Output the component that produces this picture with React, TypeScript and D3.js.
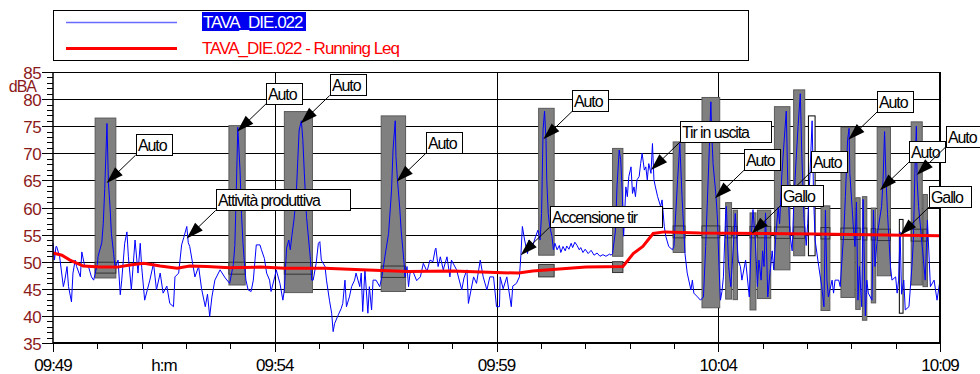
import React from 'react';
import * as d3 from 'd3';

// time is seconds after 09:49:00, levels in dBA
const xTickLabels = ['09:49', '09:54', '09:59', '10:04', '10:09'];
const xTickSeconds = [0, 300, 600, 900, 1200];
const yTickValues = [35, 40, 45, 50, 55, 60, 65, 70, 75, 80, 85];

const seriesName = 'TAVA_DIE.022';
const leqName = 'TAVA_DIE.022 - Running Leq';

const levels: [number, number][] = [
  [0, 53.4], [2, 50.3], [4, 52.8], [5, 52.8], [9, 50.9], [14, 45.4], [16, 46.6], [19, 49.1], [21, 45.4], [25, 42.6],
  [27, 47.9], [30, 50.3], [32, 49.1], [37, 47.2], [39, 51.8], [43, 49.1], [48, 49.1], [52, 47.2], [55, 46.6], [57, 47.8],
  [60, 49.5], [61, 51.0], [66, 53.5], [68, 57], [70, 63.5], [73, 75.5], [75, 64.5], [77, 60.5], [79, 55.2], [82, 51.5],
  [84, 48.8], [88, 50.3], [91, 43.9], [93, 46.6], [97, 53.4], [100, 55.5], [102, 50.9], [106, 44.8], [111, 54.0], [115, 47.9],
  [118, 53.4], [120, 49.0], [124, 42.9], [131, 46.6], [136, 49.7], [140, 44.8], [145, 47.9], [149, 44.2], [154, 45.5], [158, 42.3],
  [163, 41.7], [165, 47.2], [170, 47.9], [174, 53.1], [177, 54.5], [181, 56.5], [183, 53.5], [185, 52.8], [192, 47.2], [197, 49.1],
  [201, 45.0], [206, 41.7], [209, 44.0], [212, 39.9], [215, 43.5], [219, 46.6], [226, 48.5], [233, 47.0], [239, 46.0], [244, 49.5],
  [246, 53.0], [248, 63.2], [250, 74.8], [252, 69.5], [253, 66.9], [255, 58.9], [257, 53.5], [259, 49.7], [261, 46.6], [264, 44.8],
  [268, 44.5], [271, 46.6], [275, 53.1], [280, 53.1], [282, 52.2], [286, 50.6], [289, 47.9], [293, 46.6], [295, 44.5], [300, 47.2],
  [302, 48.5], [307, 46.0], [311, 42.9], [313, 44.8], [316, 52.5], [319, 54.0], [321, 52.2], [323, 54.6], [326, 57.7], [329, 62.1],
  [331, 68.2], [333, 74.3], [336, 76.0], [338, 72.5], [340, 66.4], [343, 58.2], [345, 55.3], [348, 50.9], [350, 46.6], [352, 46.6],
  [356, 49.7], [359, 53.4], [361, 53.7], [363, 50.3], [368, 49.1], [370, 46.6], [374, 42.9], [377, 40.5], [379, 37.1], [381, 38.6],
  [386, 40.2], [390, 41.4], [392, 42.3], [395, 46.6], [397, 41.7], [401, 43.5], [404, 45.4], [408, 46.6], [410, 47.9], [415, 45.4],
  [417, 47.9], [419, 40.8], [422, 48.5], [426, 40.5], [428, 45.4], [431, 41.1], [433, 46.6], [437, 46.6], [442, 45.4], [445, 47.2],
  [449, 50.9], [454, 55.2], [458, 63.2], [460, 70.6], [463, 76.0], [464, 69.4], [466, 65.1], [469, 60.1], [471, 55.8], [475, 49.7],
  [476, 47.2], [479, 49.1], [481, 45.4], [483, 47.9], [487, 48.2], [492, 46.5], [497, 47.2], [501, 49.7], [506, 48.2], [510, 50.3],
  [514, 50.0], [517, 52.2], [518, 52.5], [521, 49.1], [524, 50.9], [528, 48.5], [533, 50.9], [537, 47.2], [539, 50.3], [546, 48.5],
  [553, 44.8], [556, 47.0], [560, 48.5], [562, 42.3], [569, 47.2], [573, 46.0], [578, 50.3], [582, 47.2], [587, 44.8], [591, 47.2],
  [596, 47.2], [600, 41.7], [604, 41.7], [605, 47.2], [609, 45.0], [614, 47.2], [618, 43.5], [620, 41.7], [622, 45.5], [627, 46.0],
  [631, 47.2], [633, 51.2], [635, 56.5], [638, 54.0], [642, 51.5], [644, 54.0], [648, 52.5], [653, 54.7], [656, 55.8], [659, 54.0],
  [661, 58.9], [663, 74.3], [665, 77.8], [667, 72.4], [668, 65.1], [670, 58.9], [672, 56.5], [675, 54.7], [677, 52.2], [679, 53.4],
  [682, 52.2], [685, 53.0], [687, 51.7], [690, 52.8], [693, 52.0], [695, 52.9], [698, 52.3], [701, 53.4], [703, 52.6], [706, 53.6],
  [709, 53.0], [712, 52.2], [714, 52.6], [717, 51.7], [720, 52.3], [724, 51.5], [728, 52.1], [732, 51.2], [736, 51.6], [740, 51.0],
  [744, 51.3], [748, 51.0], [753, 51.4], [755, 51.2], [757, 51.5], [761, 55.8], [763, 63.8], [766, 70.6], [768, 68.8], [770, 63.2],
  [772, 54.7], [775, 63.8], [777, 62.0], [779, 65.7], [782, 67.5], [784, 62.6], [786, 63.8], [788, 62.0], [790, 65.1], [793, 65.7],
  [795, 68.1], [797, 70.0], [800, 66.9], [802, 67.5], [804, 65.1], [806, 68.1], [809, 66.3], [811, 71.8], [813, 65.1], [815, 63.8],
  [818, 62.0], [822, 60.2], [824, 61.4], [827, 56.5], [829, 54.7], [833, 52.8], [838, 52.2], [840, 52.8], [845, 65.1], [848, 71.8],
  [851, 62.0], [855, 51.5], [858, 47.9], [863, 44.8], [865, 46.6], [867, 44.2], [872, 43.5], [876, 42.9], [880, 43.5], [883, 52.8],
  [885, 60.2], [888, 71.2], [890, 79.5], [891, 74.3], [893, 68.1], [897, 62.0], [899, 57.7], [901, 49.1], [903, 42.9], [905, 44.5],
  [907, 47.2], [910, 58.9], [911, 60.2], [914, 49.1], [917, 45.4], [921, 54.0], [923, 58.9], [927, 50.3], [930, 49.1], [932, 46.6],
  [937, 50.3], [942, 43.5], [945, 55.4], [947, 59.6], [950, 54.0], [953, 45.4], [955, 50.3], [958, 46.6], [960, 52.0], [962, 49.1],
  [964, 59.0], [967, 43.5], [970, 48.0], [973, 52.0], [975, 48.5], [978, 55.0], [981, 60.0], [983, 57.0], [986, 66.0], [989, 72.0],
  [992, 77.8], [994, 65.0], [997, 55.0], [1000, 52.0], [1002, 60.0], [1005, 68.0], [1008, 75.0], [1011, 81.0], [1013, 70.0], [1016, 58.0],
  [1019, 53.0], [1021, 57.0], [1024, 66.0], [1027, 76.0], [1029, 62.0], [1031, 54.0], [1036, 49.1], [1040, 45.4], [1043, 41.7], [1045, 59.5],
  [1047, 46.6], [1049, 43.5], [1054, 46.6], [1056, 44.2], [1058, 46.6], [1063, 46.6], [1065, 45.4], [1070, 55.8], [1072, 62.0], [1075, 72.5],
  [1077, 74.6], [1078, 66.3], [1081, 60.2], [1083, 55.8], [1085, 52.8], [1087, 61.0], [1089, 42.9], [1091, 49.1], [1094, 41.7], [1096, 61.5],
  [1099, 40.0], [1101, 46.6], [1103, 44.2], [1108, 42.9], [1110, 59.5], [1112, 49.1], [1116, 55.8], [1121, 60.2], [1123, 65.1], [1125, 74.0],
  [1127, 65.1], [1129, 58.9], [1133, 49.1], [1135, 46.6], [1140, 47.2], [1142, 44.2], [1144, 46.6], [1146, 55.5], [1148, 44.0], [1151, 46.6],
  [1153, 41.1], [1158, 41.7], [1162, 49.1], [1164, 54.0], [1166, 66.3], [1168, 75.0], [1169, 65.1], [1171, 60.2], [1176, 52.8], [1180, 46.6],
  [1183, 57.7], [1187, 45.4], [1192, 46.6], [1196, 42.9], [1200, 46.6],
];

const runningLeq: [number, number][] = [
  [0, 51.6], [12, 51.2], [23, 50.3], [41, 49.2], [64, 49.0], [87, 49.0], [104, 49.4], [123, 49.7], [145, 49.2], [168, 48.8],
  [185, 49.2], [208, 49.1], [239, 48.9], [281, 49.0], [314, 48.8], [368, 48.8], [417, 48.5], [480, 48.2], [541, 48.3], [599, 48.0],
  [630, 47.9], [649, 48.3], [721, 49.0], [771, 49.1], [785, 51.5], [798, 52.8], [812, 55.2], [827, 55.5], [875, 55.3], [962, 55.2],
  [1031, 55.1], [1200, 54.8],
];

// marked events: start, end, min, max, band low, band high, white (1) or grey (0)
const events: [number, number, number, number, number, number, number][] = [
  [57, 85, 47.0, 76.5, 47.9, 49.9, 0],
  [238, 260, 45.7, 75.1, 47.7, 49.9, 0],
  [313, 351, 44.3, 77.7, 47.7, 49.85, 0],
  [444, 477, 44.5, 76.9, 47.1, 49.2, 0],
  [657, 678, 51.2, 78.3, 47.2, 49.5, 0],
  [757, 771, 51.0, 70.9, 48.0, 50.0, 0],
  [839, 855, 51.7, 72.1, 54.4, 56.6, 0],
  [878, 902, 41.5, 80.3, 54.4, 56.6, 0],
  [910, 918, 43.1, 60.9, 54.4, 56.5, 0],
  [920, 926, 43.0, 59.5, 54.4, 56.5, 0],
  [943, 951, 41.1, 59.0, 54.4, 56.5, 0],
  [953, 971, 43.2, 59.5, 54.4, 56.5, 0],
  [976, 997, 48.5, 78.6, 54.3, 56.4, 0],
  [1002, 1017, 51.1, 81.7, 54.3, 56.4, 0],
  [1022, 1031, 51.1, 76.9, 54.3, 56.4, 1],
  [1039, 1051, 41.0, 60.3, 54.2, 56.3, 0],
  [1066, 1085, 43.4, 74.8, 54.1, 56.2, 0],
  [1086, 1092, 41.2, 61.8, 54.1, 56.2, 0],
  [1095, 1101, 39.2, 62.0, 54.0, 56.2, 0],
  [1107, 1113, 42.4, 59.9, 54.0, 56.1, 0],
  [1115, 1133, 47.4, 74.8, 53.9, 56.0, 0],
  [1145, 1150, 40.5, 57.8, 53.9, 56.0, 1],
  [1161, 1176, 45.7, 75.8, 53.8, 56.0, 0],
  [1177, 1183, 45.4, 62.4, 53.8, 56.0, 0],
];

// notes: text, time and level the arrow points at
const notes: [string, number, number][] = [
  ['Auto', 72.6, 64.5],
  ['Auto', 249.3, 74.0],
  ['Auto', 335.1, 75.5],
  ['Attività produttiva', 180.9, 54.3],
  ['Auto', 465, 64.8],
  ['Auto', 663.3, 72.6],
  ['Accensione tir', 632.7, 51.2],
  ['Tir in uscita', 809, 66.9],
  ['Auto', 895.6, 61.7],
  ['Auto', 986.3, 61.4],
  ['Gallo', 945.3, 55.2],
  ['Auto', 1076, 72.5],
  ['Auto', 1118.8, 63.2],
  ['Auto', 1168.5, 66.0],
  ['Gallo', 1145.9, 54.9],
];

const noteWidth: Record<string, number> = {
  'Auto': 36,
  'Gallo': 42,
  'Attività produttiva': 134,
  'Accensione tir': 112,
  'Tir in uscita': 91,
};

const FONT = "'Liberation Sans', Arial, sans-serif";
const AXIS_RED = '#8b1a1a';

export default function App() {
  const width = 980;
  const height = 374;
  const left = 53, right = 940, top = 72, bottom = 343;

  const x = d3.scaleLinear().domain([0, 1200]).range([left, right]);
  const y = d3.scaleLinear().domain([35, 85]).range([bottom, top]);

  const line = d3.line<[number, number]>()
    .x(d => x(d[0]))
    .y(d => y(d[1]));

  const minuteTicks = d3.range(0, 1201, 60);
  const dbMinor = d3.range(35, 86, 1);

  return (
    <svg width={width} height={height} style={{ position: 'absolute', left: 0, top: 0, display: 'block', background: '#fff' }}
      fontFamily={FONT}>
      {/* legend */}
      <rect x={53.5} y={10.5} width={695} height={50} fill="#fff" stroke="#000" />
      <line x1={66} x2={177} y1={22.5} y2={22.5} stroke="#6a6aff" strokeWidth={1.5} />
      <line x1={66} x2={177} y1={48.5} y2={48.5} stroke="#ff0000" strokeWidth={3} />
      <rect x={202} y={12} width={104} height={19} fill="#0000f0" />
      <text x={203} y={27.5} fontSize={17} letterSpacing={-1} fill="#fff">{seriesName}</text>
      <text x={202} y={53.5} fontSize={17} letterSpacing={-1} fill="#ff0000">{leqName}</text>

      {/* grid */}
      {yTickValues.slice(1, -1).map(v => (
        <line key={'g' + v} x1={left} x2={right} y1={Math.round(y(v)) + 0.5} y2={Math.round(y(v)) + 0.5} stroke="#000" strokeWidth={1} />
      ))}
      {xTickSeconds.slice(1, -1).map(s => (
        <line key={'v' + s} x1={Math.round(x(s)) + 0.5} x2={Math.round(x(s)) + 0.5} y1={top} y2={bottom} stroke="#000" strokeWidth={1} />
      ))}
      <line x1={left} x2={right} y1={top + 0.5} y2={top + 0.5} stroke="#000" />

      {/* events */}
      {events.map((e, i) => {
        const x0 = x(e[0]), x1 = x(e[1]);
        const fill = e[6] ? '#ffffff' : '#808080';
        return (
          <g key={'e' + i}>
            <rect x={x0} y={y(e[3])} width={x1 - x0} height={y(e[2]) - y(e[3])} fill={fill}
              stroke={e[6] ? '#000' : '#5a5a5a'} strokeWidth={1} />
            {!e[6] && (
              <rect x={x0} y={y(e[5])} width={x1 - x0} height={y(e[4]) - y(e[5])} fill="#808080"
                stroke="#333" strokeWidth={1} />
            )}
          </g>
        );
      })}

      {/* series */}
      <path d={line(levels) || ''} fill="none" stroke="#0000ff" strokeWidth={1} />
      <path d={line(runningLeq) || ''} fill="none" stroke="#ff0000" strokeWidth={3} />

      {/* axes */}
      <line x1={left} x2={left} y1={top} y2={bottom} stroke="#000" strokeWidth={1.5} />
      <line x1={right} x2={right} y1={top} y2={bottom} stroke="#000" strokeWidth={2} />
      <line x1={left} x2={right + 1} y1={bottom} y2={bottom} stroke="#000" strokeWidth={2} />
      {dbMinor.map(v => (
        <line key={'yt' + v} x1={v % 5 === 0 ? left - 11 : left - 6} x2={left}
          y1={Math.round(y(v)) + 0.5} y2={Math.round(y(v)) + 0.5} stroke="#000" />
      ))}
      {yTickValues.map(v => (
        <text key={'yl' + v} x={41} y={y(v) + 7} fontSize={17} letterSpacing={-0.6} textAnchor="end" fill={AXIS_RED}>{v}</text>
      ))}
      <text x={36} y={91.5} fontSize={16} letterSpacing={-1} textAnchor="end" fill={AXIS_RED}>dBA</text>
      {minuteTicks.map(s => (
        <line key={'xt' + s} x1={Math.round(x(s)) + 0.5} x2={Math.round(x(s)) + 0.5} y1={bottom}
          y2={s % 300 === 0 ? bottom + 9 : bottom + 6} stroke="#000" />
      ))}
      {xTickSeconds.map((s, i) => (
        <text key={'xl' + s} x={x(s)} y={371} fontSize={17} letterSpacing={-1} textAnchor="middle" fill="#000">{xTickLabels[i]}</text>
      ))}
      <text x={x(150)} y={371} fontSize={17} letterSpacing={-1} textAnchor="middle" fill="#000">h:m</text>

      {/* notes */}
      {notes.map((n, i) => {
        const tx = x(n[1]), ty = y(n[2]);
        const cx = tx + 29, cy = ty - 28;
        const w = noteWidth[n[0]] || 36;
        const dx = cx - tx, dy = cy - ty;
        const len = Math.hypot(dx, dy);
        const ux = dx / len, uy = dy / len;
        const bx = tx + ux * 17, by = ty + uy * 17;
        const px = -uy * 5.5, py = ux * 5.5;
        return (
          <g key={'n' + i}>
            <line x1={cx} y1={cy} x2={tx + ux * 8} y2={ty + uy * 8} stroke="#000" strokeWidth={1} />
            <polygon points={`${tx},${ty} ${bx + px},${by + py} ${bx - px},${by - py}`} fill="#000" />
            <rect x={Math.round(cx) + 0.5} y={Math.round(cy) - 21 + 0.5} width={w} height={21} fill="#fff" stroke="#000" />
            <text x={Math.round(cx) + 2} y={Math.round(cy) - 4.5} fontSize={16} letterSpacing={-1.1} fill="#000">{n[0]}</text>
          </g>
        );
      })}
    </svg>
  );
}
